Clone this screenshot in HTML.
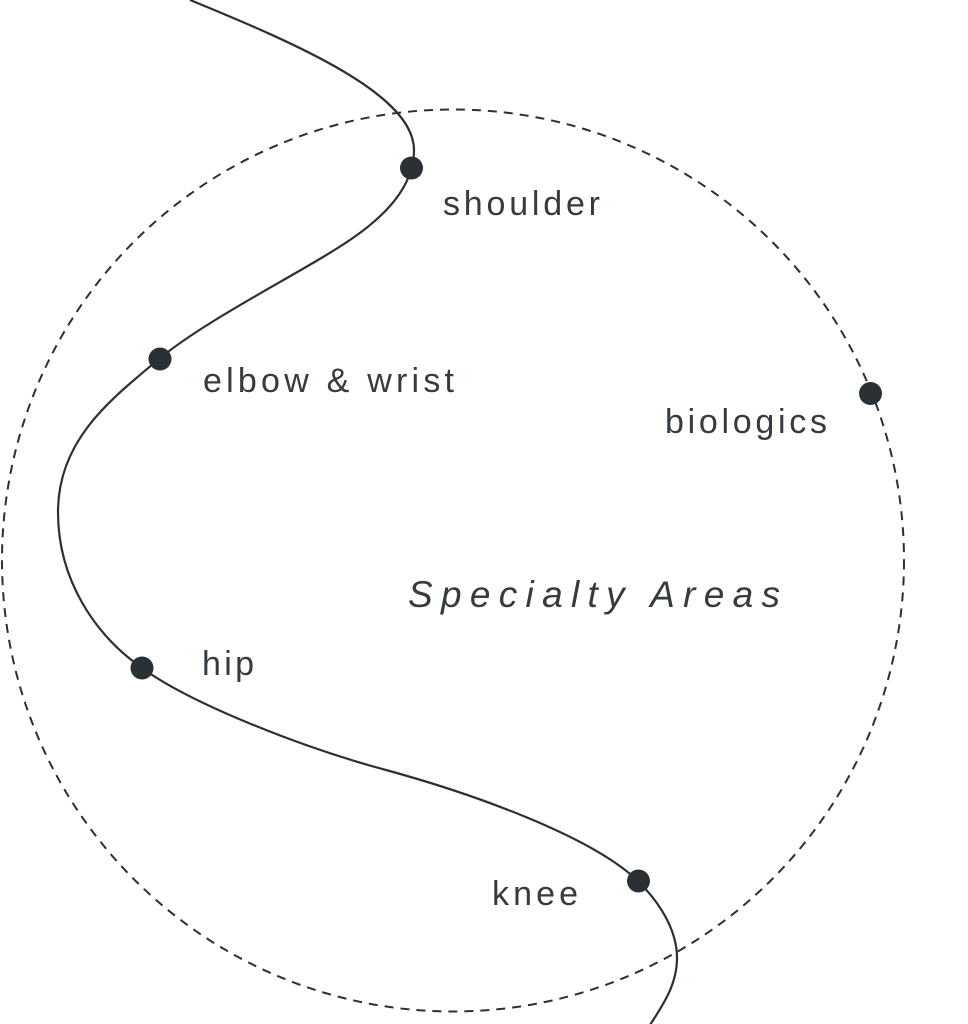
<!DOCTYPE html>
<html>
<head>
<meta charset="utf-8">
<style>
  html, body { margin: 0; padding: 0; background: #ffffff; }
  body { width: 968px; height: 1024px; overflow: hidden; }
  svg { display: block; }
  .lbl { font-family: "Liberation Sans", sans-serif; font-size: 34px; fill: #363b3f; }
  .ttl { font-family: "Liberation Sans", sans-serif; font-size: 37px; font-style: italic; fill: #363b3f; }
</style>
</head>
<body>
<svg width="968" height="1024" viewBox="0 0 968 1024" xmlns="http://www.w3.org/2000/svg">
  <!-- dashed circle -->
  <circle cx="453" cy="560.5" r="451" fill="none" stroke="#2b3034" stroke-width="2" stroke-dasharray="9 7"/>

  <!-- solid S curve -->
  <path d="M190,0
           C300,45 414,95 414,150
           C414,200 360,235 323,257
           C273,287 200,325 159,359
           C110,400 58,440 58,512
           C58,580 95,635 142,668
           C190,703 300,747 386,770
           C470,793 590,835 638,881
           C660,903 677,930 677,958
           C677,985 663,1005 648,1028"
        fill="none" stroke="#2b3034" stroke-width="2.2"/>

  <!-- dots -->
  <circle cx="411.5" cy="168" r="11.5" fill="#2b3034"/>
  <circle cx="160" cy="359" r="11.5" fill="#2b3034"/>
  <circle cx="142" cy="668" r="11.5" fill="#2b3034"/>
  <circle cx="638.5" cy="881" r="11.5" fill="#2b3034"/>
  <circle cx="870.5" cy="393.5" r="11.5" fill="#2b3034"/>

  <!-- labels -->
  <text class="lbl" x="443" y="215" textLength="157" lengthAdjust="spacing">shoulder</text>
  <text class="lbl" x="203" y="392" textLength="251" lengthAdjust="spacing">elbow &amp; wrist</text>
  <text class="lbl" x="665" y="433" textLength="162" lengthAdjust="spacing">biologics</text>
  <text class="lbl" x="202" y="675" textLength="52" lengthAdjust="spacing">hip</text>
  <text class="lbl" x="492" y="905" textLength="86" lengthAdjust="spacing">knee</text>
  <text class="ttl" x="408" y="607" textLength="372" lengthAdjust="spacing">Specialty Areas</text>
</svg>
</body>
</html>
